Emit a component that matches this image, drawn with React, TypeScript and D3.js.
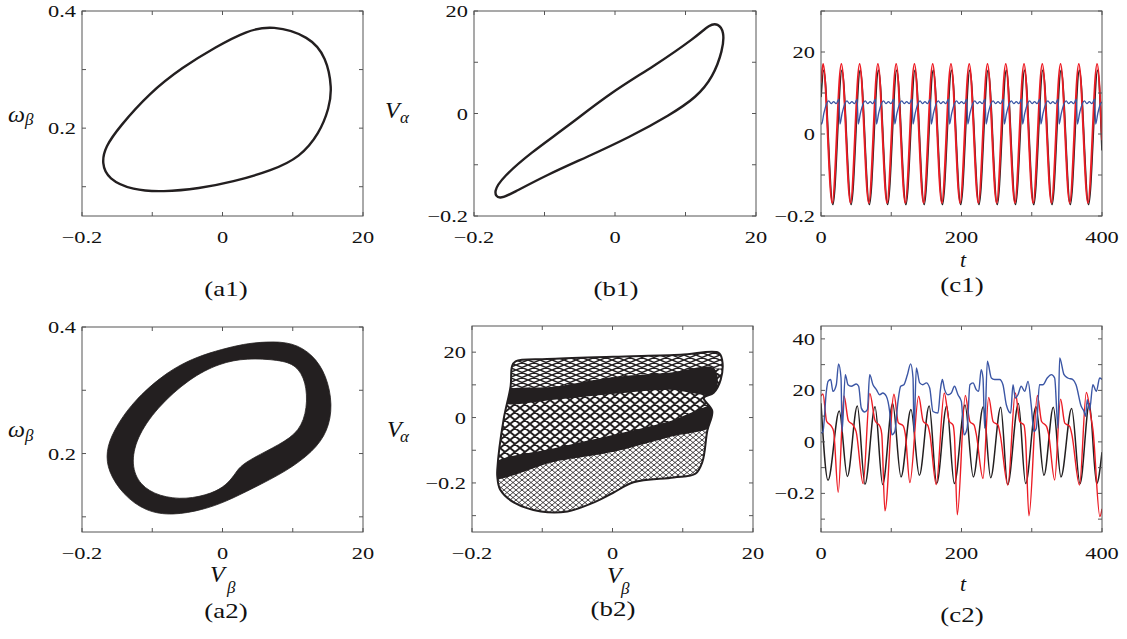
import React from 'react';
import * as d3 from 'd3';

type Pt = [number, number];
type Scale = d3.ScaleLinear<number, number>;

const FONT = '"Liberation Serif", "DejaVu Serif", serif';
const INK = '#231f20';
const FRAME = '#555555';
const RED = '#ec1c24';
const BLUE = '#3b56a5';
const STRETCH = 1.28;

// ---- axes ----
const phaseTicks = [-20, -10, 0, 10, 20];
const phaseTickLabels: Record<string, string> = { '-20': '−0.2', '0': '0', '20': '20' };
const omegaTicks = [0.1, 0.2, 0.3, 0.4];
const omegaTickLabels: Record<string, string> = { '0.2': '0.2', '0.4': '0.4' };
const b2Ticks = [-30, -20, -10, 0, 10, 20];
const c1Ticks = [-20, -10, 0, 10, 20, 30];
const c2Ticks = [-30, -20, -10, 0, 10, 20, 30, 40];
const c2TickLabels: Record<string, string> = { '-20': '−0.2', '0': '0', '20': '20', '40': '40' };
const timeTicks = [0, 100, 200, 300, 400];
const timeTickLabels: Record<string, string> = { '0': '0', '200': '200', '400': '400' };

// ---- (a1) limit cycle V_beta / omega_beta ----
const a1Loop: Pt[] = [
  [7.1, 0.376], [12.4, 0.357], [14.8, 0.321], [15.6, 0.268], [15.2, 0.235], [13.8, 0.191],
  [11, 0.15], [7.1, 0.128], [1.4, 0.108], [-3.3, 0.097], [-8.5, 0.091], [-12.8, 0.094],
  [-16.3, 0.113], [-17.2, 0.14], [-16.7, 0.168], [-14.7, 0.202], [-10.4, 0.26], [-5.7, 0.304],
  [-0.9, 0.339], [3.4, 0.366],
];

// ---- (b1) limit cycle V_beta / V_alpha ----
const b1Loop: Pt[] = [
  [14.6, 17.6], [15.5, 16], [15.3, 12.4], [13.9, 7.1], [11.6, 3.2], [7.8, -0.3], [2.1, -4.6],
  [-4, -8.5], [-9.7, -12], [-14.5, -15.5], [-16.5, -16.9], [-17.3, -15.3], [-15.9, -12.4],
  [-12, -7.7], [-6.8, -2.6], [-0.7, 4], [5.4, 9.1], [11.6, 15], [13.4, 17.4],
];

// ---- (a2) chaotic band ----
const a2Outer: Pt[] = [
  [6.2, 0.377], [10, 0.376], [12.9, 0.356], [14.8, 0.324], [15.7, 0.277], [15, 0.235],
  [12.9, 0.203], [9.1, 0.172], [4.3, 0.145], [0.5, 0.124], [-2.8, 0.111], [-7.1, 0.102],
  [-10.9, 0.108], [-14.2, 0.135], [-16.3, 0.172], [-16.6, 0.203], [-15.6, 0.235], [-12.8, 0.282],
  [-8, 0.329], [-3.7, 0.353], [0, 0.365], [2.9, 0.373],
];
const a2Inner: Pt[] = [
  [3.4, 0.351], [8.1, 0.348], [10.5, 0.34], [11.9, 0.314], [12.1, 0.272], [11, 0.235],
  [8.1, 0.214], [4.3, 0.193], [2.4, 0.179], [1.7, 0.166], [0.5, 0.15], [-1.4, 0.137],
  [-5.2, 0.127], [-9, 0.132], [-11.8, 0.15], [-13, 0.182], [-12.3, 0.224], [-9.4, 0.272],
  [-4.7, 0.319], [-0.4, 0.343],
];

// ---- (b2) chaotic attractor regions ----
const b2Outline: Pt[] = [
  [-13.8, 17.2], [-9.3, 17.9], [0.1, 18.6], [9.7, 19.2], [15.1, 19.8], [15.6, 17.7], [15.4, 11.6],
  [14.4, 7.6], [13, 6], [14.2, 2], [13.5, -4], [12.8, -13.5], [11.8, -17.2], [8.7, -18.3],
  [3, -19.8], [0.1, -23], [-2.7, -26], [-6.4, -28.7], [-10.2, -28.7], [-14, -26], [-16, -22],
  [-16.4, -18], [-16.4, -15.9], [-15.5, -0.6], [-14.5, 9.6], [-14.3, 15.7],
];
const b2UpperBand: Pt[] = [
  [-15.5, 4.6], [-8, 5.5], [0, 7.2], [8, 8.5], [14.5, 7.5],
  [14.5, 15], [8, 13.7], [0, 12.3], [-8, 9.5], [-15.5, 8],
];
const b2LowerBand: Pt[] = [
  [-17, -18.5], [-8, -13.4], [0, -10.5], [8, -6], [14.5, -2.2],
  [14.5, 3.4], [8, -1.2], [0, -5.3], [-8, -9.2], [-17, -14.2],
];
const b2TopRegion: Pt[] = [
  [-20, 25], [20, 25], [20, 15], [14.5, 15], [8, 13.7], [0, 12.3], [-8, 9.5], [-15.5, 8], [-20, 8],
];
const b2BottomRegion: Pt[] = [
  [-20, -18.5], [-17, -18.5], [-8, -13.4], [0, -10.5], [8, -6], [14.5, -2.2], [20, -2.2],
  [20, -40], [-20, -40],
];

// ---- (c1) time series ----
const c1Black: Pt[] = [
  [0, 9], [3.8, 15.5], [16.8, -17.2], [29.8, 15.5], [42.8, -17.2], [55.8, 15.5], [68.8, -17.2],
  [81.8, 15.5], [94.8, -17.2], [107.8, 15.5], [120.8, -17.2], [133.8, 15.5], [146.8, -17.2],
  [159.8, 15.5], [172.8, -17.2], [185.8, 15.5], [198.8, -17.2], [211.8, 15.5], [224.8, -17.2],
  [237.8, 15.5], [250.8, -17.2], [263.8, 15.5], [276.8, -17.2], [289.8, 15.5], [302.8, -17.2],
  [315.8, 15.5], [328.8, -17.2], [341.8, 15.5], [354.8, -17.2], [367.8, 15.5], [380.8, -17.2],
  [393.8, 15.5], [400, -4],
];
const c1Red: Pt[] = [
  [0, 12.5], [3, 17.1], [16, -16.8], [29, 17.1], [42, -16.8], [55, 17.1], [68, -16.8],
  [81, 17.1], [94, -16.8], [107, 17.1], [120, -16.8], [133, 17.1], [146, -16.8], [159, 17.1],
  [172, -16.8], [185, 17.1], [198, -16.8], [211, 17.1], [224, -16.8], [237, 17.1], [250, -16.8],
  [263, 17.1], [276, -16.8], [289, 17.1], [302, -16.8], [315, 17.1], [328, -16.8], [341, 17.1],
  [354, -16.8], [367, 17.1], [380, -16.8], [393, 17.1], [400, -1.5],
];
const c1Blue: Pt[] = [
  [0, 2.8], [1, 2.4], [4, 5], [8, 7.4], [11, 8.1], [14.5, 7.4], [18, 7.9], [21.5, 7.4], [25.5, 8.5],
  [27, 2.4], [30, 5], [34, 7.4], [37, 8.1], [40.5, 7.4], [44, 7.9], [47.5, 7.4], [51.5, 8.5],
  [53, 2.4], [56, 5], [60, 7.4], [63, 8.1], [66.5, 7.4], [70, 7.9], [73.5, 7.4], [77.5, 8.5],
  [79, 2.4], [82, 5], [86, 7.4], [89, 8.1], [92.5, 7.4], [96, 7.9], [99.5, 7.4], [103.5, 8.5],
  [105, 2.4], [108, 5], [112, 7.4], [115, 8.1], [118.5, 7.4], [122, 7.9], [125.5, 7.4], [129.5, 8.5],
  [131, 2.4], [134, 5], [138, 7.4], [141, 8.1], [144.5, 7.4], [148, 7.9], [151.5, 7.4], [155.5, 8.5],
  [157, 2.4], [160, 5], [164, 7.4], [167, 8.1], [170.5, 7.4], [174, 7.9], [177.5, 7.4], [181.5, 8.5],
  [183, 2.4], [186, 5], [190, 7.4], [193, 8.1], [196.5, 7.4], [200, 7.9], [203.5, 7.4], [207.5, 8.5],
  [209, 2.4], [212, 5], [216, 7.4], [219, 8.1], [222.5, 7.4], [226, 7.9], [229.5, 7.4], [233.5, 8.5],
  [235, 2.4], [238, 5], [242, 7.4], [245, 8.1], [248.5, 7.4], [252, 7.9], [255.5, 7.4], [259.5, 8.5],
  [261, 2.4], [264, 5], [268, 7.4], [271, 8.1], [274.5, 7.4], [278, 7.9], [281.5, 7.4], [285.5, 8.5],
  [287, 2.4], [290, 5], [294, 7.4], [297, 8.1], [300.5, 7.4], [304, 7.9], [307.5, 7.4], [311.5, 8.5],
  [313, 2.4], [316, 5], [320, 7.4], [323, 8.1], [326.5, 7.4], [330, 7.9], [333.5, 7.4], [337.5, 8.5],
  [339, 2.4], [342, 5], [346, 7.4], [349, 8.1], [352.5, 7.4], [356, 7.9], [359.5, 7.4], [363.5, 8.5],
  [365, 2.4], [368, 5], [372, 7.4], [375, 8.1], [378.5, 7.4], [382, 7.9], [385.5, 7.4], [389.5, 8.5],
  [391, 2.4], [394, 5], [398, 7.4], [400, 7.8],
];

// ---- (c2) time series ----
const c2Black: Pt[] = [
  [0, 15], [10, -14.9], [26, 12], [37.5, -13.4], [51.7, 13.9], [62.6, -16.5], [76.9, 13.6],
  [87.8, -16.6], [102, 14.9], [113.9, -13.6], [128, 12.6], [140, -13], [154, 13.9], [164.7, -16.2],
  [178.9, 13.9], [189.8, -16.2], [205, 14.3], [216.8, -13.6], [231, 13.6], [241.5, -13.9],
  [255.8, 13.4], [265.7, -16.6], [281, 14.9], [291.3, -16.2], [306, 13.6], [317.4, -13],
  [330.7, 13.4], [341.6, -13.6], [356.8, 13], [368.7, -16.2], [382, 14.9], [392.4, -16.2], [400, -4],
];
const c2Red: Pt[] = [
  [0, 17.8], [2.8, 18.6], [8, 8], [14.7, 6.1], [18, 4], [24.5, -19.6], [32.7, 17.8], [39, 8.2],
  [46, 6.4], [50, 4], [60, -16.2], [69.5, 18.8], [77, 8.2], [84, 6], [86.5, 3], [91, -26.8],
  [103.9, 18.5], [110, 7.5], [117, 6.2], [120, 3], [126.5, -15.8], [139, 17.7], [145.5, 8],
  [152, 6.4], [155, 3], [164, -16.6], [175.5, 19], [182.5, 8], [188, 6.5], [190, 2], [194, -28.3],
  [205.4, 18], [212, 7.9], [218, 6.5], [221, 3], [230.6, -14.2], [238.7, 17.3], [245, 7.9],
  [252, 6.5], [255, 3], [266, -16.8], [276.6, 19], [283, 7.9], [289, 6.5], [291, 2], [296, -28.7],
  [308, 18], [314, 7.9], [321, 6], [324, 3], [332.6, -14.8], [341, 16.6], [347, 7.3], [354, 6],
  [357, 3], [368, -16.8], [377.7, 19.2], [384.5, 9.2], [387, 5], [397, -29], [400, -26],
];
const c2Blue: Pt[] = [
  [0, 3.4], [2.8, 4], [7.6, 19.6], [10, 23.5], [13.8, 24.2], [17, 19.6], [21.8, 22.2], [25, 30.3],
  [28.5, 24.8], [30, 4], [34.6, 26.1], [38.4, 22.2], [43, 21.6], [50.3, 22.5], [53.6, 21.6],
  [57.4, 13.1], [62, 11.6], [66, 12.5], [69.3, 26.1], [74, 22.2], [78.8, 20.3], [83.5, 18.3],
  [88, 19], [93, 17.7], [97.7, 11.8], [101, 2.7], [105, 4], [109.6, 15.7], [113.4, 21.6],
  [118, 22.2], [123, 26.1], [127.6, 30.3], [131, 24.8], [132.4, 4], [135.7, 28.7], [140.5, 22.9],
  [145, 22.2], [150, 22.9], [154.7, 20.9], [159.4, 11.8], [166.5, 11.2], [170, 20.3], [172.7, 24.2],
  [176, 20.3], [180.8, 18.3], [185.5, 19], [190, 21.6], [195, 18.3], [199.8, 15.7], [203.6, 2.7],
  [208, 5.3], [212, 22.2], [216.4, 22.9], [221, 20.3], [224.4, 19.6], [228, 28], [230.6, 24.8],
  [233, 5.3], [236.8, 31.3], [242.5, 24.8], [247, 24.2], [254.3, 24.2], [259, 22.2], [263.8, 14.4],
  [270, 11.2], [273.3, 22.2], [276.6, 17], [280.4, 18.3], [285, 21.6], [289.9, 19.6], [294.7, 23.5],
  [299.4, 13.8], [303, 4], [306.5, 5.3], [311, 22.2], [315.9, 22.2], [322, 24.8], [327.9, 26.1],
  [332.6, 24.8], [337.4, 5.3], [339.7, 32.6], [346, 26.1], [351.4, 24.8], [358.5, 24.2], [363, 22.2],
  [370.4, 13.8], [374.4, 11.8], [376.7, 9.9], [379, 16.4], [382.4, 12.5], [387, 22.2], [392, 19.6],
  [396.7, 24.8], [400, 24.2],
];

// hatch tile for the b2 mesh texture
function lattice(w: number, h: number) {
  let d = '';
  for (let n = -1; n <= 1; n++) {
    d += `M0,${n * h} L${w},${n * h + h} M0,${n * h + h} L${w},${n * h} `;
  }
  return d;
}

// horizontally stretched text, like the typeset figure
const T = ({ x, y, anchor = 'middle', size, children }: { x: number; y: number; anchor?: string; size?: number; children: React.ReactNode }) => (
  <text transform={`translate(${x},${y}) scale(${STRETCH},1)`} textAnchor={anchor} fontSize={size}>{children}</text>
);

interface PanelProps {
  id: string;
  left: number;
  right: number;
  top: number;
  bottom: number;
  xDomain: [number, number];
  yDomain: [number, number];
  xTicks: number[];
  xLabels: Record<string, string>;
  yTicks: number[];
  yLabels: Record<string, string>;
  draw: (x: Scale, y: Scale) => React.ReactNode;
}

const Panel = (p: PanelProps) => {
  const x = d3.scaleLinear().domain(p.xDomain).range([p.left, p.right]);
  const y = d3.scaleLinear().domain(p.yDomain).range([p.bottom, p.top]);
  const tl = 4;
  return (
    <g>
      <defs>
        <clipPath id={p.id}>
          <rect x={p.left} y={p.top} width={p.right - p.left} height={p.bottom - p.top} />
        </clipPath>
      </defs>
      <g clipPath={`url(#${p.id})`}>{p.draw(x, y)}</g>
      <rect x={p.left} y={p.top} width={p.right - p.left} height={p.bottom - p.top}
        fill="none" stroke={FRAME} strokeWidth={1} />
      {p.xTicks.map((t) => (
        <g key={'x' + t} stroke={FRAME}>
          <line x1={x(t)} x2={x(t)} y1={p.bottom} y2={p.bottom - tl} />
          <line x1={x(t)} x2={x(t)} y1={p.top} y2={p.top + tl} />
        </g>
      ))}
      {p.yTicks.map((t) => (
        <g key={'y' + t} stroke={FRAME}>
          <line x1={p.left} x2={p.left + tl} y1={y(t)} y2={y(t)} />
          <line x1={p.right} x2={p.right - tl} y1={y(t)} y2={y(t)} />
        </g>
      ))}
      {p.xTicks.filter((t) => p.xLabels[String(t)]).map((t) => (
        <T key={'xl' + t} x={x(t)} y={p.bottom + 27}>{p.xLabels[String(t)]}</T>
      ))}
      {p.yTicks.filter((t) => p.yLabels[String(t)]).map((t) => (
        <T key={'yl' + t} x={p.left - 6} y={y(t) + 6} anchor="end">{p.yLabels[String(t)]}</T>
      ))}
    </g>
  );
};

const Sym = ({ x, y, main, sub, sx, sy }: { x: number; y: number; main: string; sub: string; sx: number; sy: number }) => (
  <g fontStyle="italic">
    <text x={x} y={y} fontSize={24}>{main}</text>
    <text x={sx} y={sy} fontSize={17}>{sub}</text>
  </g>
);

const App = () => {
  const smooth = (x: Scale, y: Scale) =>
    d3.line<Pt>().x((d) => x(d[0])).y((d) => y(d[1])).curve(d3.curveBasisClosed);
  const loop = (x: Scale, y: Scale) =>
    d3.line<Pt>().x((d) => x(d[0])).y((d) => y(d[1])).curve(d3.curveCatmullRomClosed.alpha(0.5));
  const poly = (x: Scale, y: Scale) =>
    d3.line<Pt>().x((d) => x(d[0])).y((d) => y(d[1])).curve(d3.curveLinearClosed);
  const series = (x: Scale, y: Scale) =>
    d3.line<Pt>().x((d) => x(d[0])).y((d) => y(d[1])).curve(d3.curveMonotoneX);

  return (
    <svg width={1127} height={639} style={{ position: 'absolute', left: 0, top: 0, background: '#fff' }}
      fontFamily={FONT} fontSize={17.5} fill="#111">
      <defs>
        <pattern id="meshA" width={12} height={5} patternUnits="userSpaceOnUse">
          <rect width={12} height={5} fill="#fff" />
          <path d={lattice(12, 5)} stroke={INK} strokeWidth={1.45} fill="none" />
        </pattern>
        <pattern id="meshB" width={10} height={8} patternUnits="userSpaceOnUse">
          <rect width={10} height={8} fill="#fff" />
          <path d={lattice(10, 8)} stroke={INK} strokeWidth={1.9} fill="none" />
        </pattern>
        <pattern id="meshC" width={6} height={5} patternUnits="userSpaceOnUse">
          <rect width={6} height={5} fill="#fff" />
          <path d={lattice(6, 5)} stroke={INK} strokeWidth={0.85} fill="none" />
        </pattern>
      </defs>

      {/* (a1) */}
      <Panel id="ca1" left={82} right={363} top={11} bottom={216} xDomain={[-20, 20]} yDomain={[0.05, 0.4]}
        xTicks={phaseTicks} xLabels={phaseTickLabels} yTicks={omegaTicks} yLabels={omegaTickLabels}
        draw={(x, y) => <path d={smooth(x, y)(a1Loop) ?? ''} fill="none" stroke={INK} strokeWidth={2.4} />} />
      {/* (b1) */}
      <Panel id="cb1" left={474} right={756} top={11} bottom={216} xDomain={[-20, 20]} yDomain={[-20, 20]}
        xTicks={phaseTicks} xLabels={phaseTickLabels} yTicks={phaseTicks} yLabels={phaseTickLabels}
        draw={(x, y) => <path d={smooth(x, y)(b1Loop) ?? ''} fill="none" stroke={INK} strokeWidth={2.4} />} />
      {/* (c1) */}
      <Panel id="cc1" left={821} right={1102} top={11} bottom={216} xDomain={[0, 400]} yDomain={[-20, 30]}
        xTicks={timeTicks} xLabels={timeTickLabels} yTicks={c1Ticks} yLabels={phaseTickLabels}
        draw={(x, y) => (
          <g fill="none">
            <path d={series(x, y)(c1Black) ?? ''} stroke={INK} strokeWidth={1.7} />
            <path d={series(x, y)(c1Red) ?? ''} stroke={RED} strokeWidth={1.9} />
            <path d={series(x, y)(c1Blue) ?? ''} stroke={BLUE} strokeWidth={1.3} />
          </g>
        )} />
      {/* (a2) */}
      <Panel id="ca2" left={82} right={363} top={327} bottom={532} xDomain={[-20, 20]} yDomain={[0.076, 0.4]}
        xTicks={phaseTicks} xLabels={phaseTickLabels} yTicks={omegaTicks} yLabels={omegaTickLabels}
        draw={(x, y) => (
          <path d={(smooth(x, y)(a2Outer) ?? '') + (smooth(x, y)(a2Inner) ?? '')}
            fill={INK} fillRule="evenodd" stroke={INK} strokeWidth={0.8} />
        )} />
      {/* (b2) */}
      <Panel id="cb2" left={472} right={753} top={326} bottom={532} xDomain={[-20, 20]} yDomain={[-35, 28]}
        xTicks={phaseTicks} xLabels={phaseTickLabels} yTicks={b2Ticks} yLabels={phaseTickLabels}
        draw={(x, y) => (
          <g>
            <defs>
              <clipPath id="b2shape"><path d={loop(x, y)(b2Outline) ?? ''} /></clipPath>
            </defs>
            <g clipPath="url(#b2shape)">
              <path d={loop(x, y)(b2Outline) ?? ''} fill="url(#meshB)" />
              <path d={poly(x, y)(b2TopRegion) ?? ''} fill="url(#meshA)" />
              <path d={poly(x, y)(b2BottomRegion) ?? ''} fill="url(#meshC)" />
              <path d={loop(x, y)(b2UpperBand) ?? ''} fill={INK} />
              <path d={loop(x, y)(b2LowerBand) ?? ''} fill={INK} />
            </g>
            <path d={loop(x, y)(b2Outline) ?? ''} fill="none" stroke={INK} strokeWidth={2} />
          </g>
        )} />
      {/* (c2) */}
      <Panel id="cc2" left={821} right={1102} top={326} bottom={532} xDomain={[0, 400]} yDomain={[-35, 45]}
        xTicks={timeTicks} xLabels={timeTickLabels} yTicks={c2Ticks} yLabels={c2TickLabels}
        draw={(x, y) => (
          <g fill="none">
            <path d={series(x, y)(c2Black) ?? ''} stroke={INK} strokeWidth={1.5} />
            <path d={series(x, y)(c2Red) ?? ''} stroke={RED} strokeWidth={1.4} />
            <path d={series(x, y)(c2Blue) ?? ''} stroke={BLUE} strokeWidth={1.4} />
          </g>
        )} />

      {/* axis titles */}
      <Sym x={8} y={122} main="ω" sub="β" sx={25} sy={125} />
      <Sym x={385} y={118} main="V" sub="α" sx={400} sy={123} />
      <Sym x={8} y={437} main="ω" sub="β" sx={25} sy={441} />
      <Sym x={387} y={437} main="V" sub="α" sx={400} sy={442} />
      <Sym x={210} y={582} main="V" sub="β" sx={227} sy={593} />
      <Sym x={607} y={583} main="V" sub="β" sx={621} sy={594} />
      <text x={963} y={267} fontStyle="italic" fontSize={22} textAnchor="middle">t</text>
      <text x={963} y={591} fontStyle="italic" fontSize={22} textAnchor="middle">t</text>

      {/* panel labels */}
      <T x={226} y={296} size={21}>(a1)</T>
      <T x={616} y={296} size={21}>(b1)</T>
      <T x={962} y={292} size={21}>(c1)</T>
      <T x={226} y={618} size={21}>(a2)</T>
      <T x={613} y={616} size={21}>(b2)</T>
      <T x={962} y={622} size={21}>(c2)</T>
    </svg>
  );
};

export default App;
